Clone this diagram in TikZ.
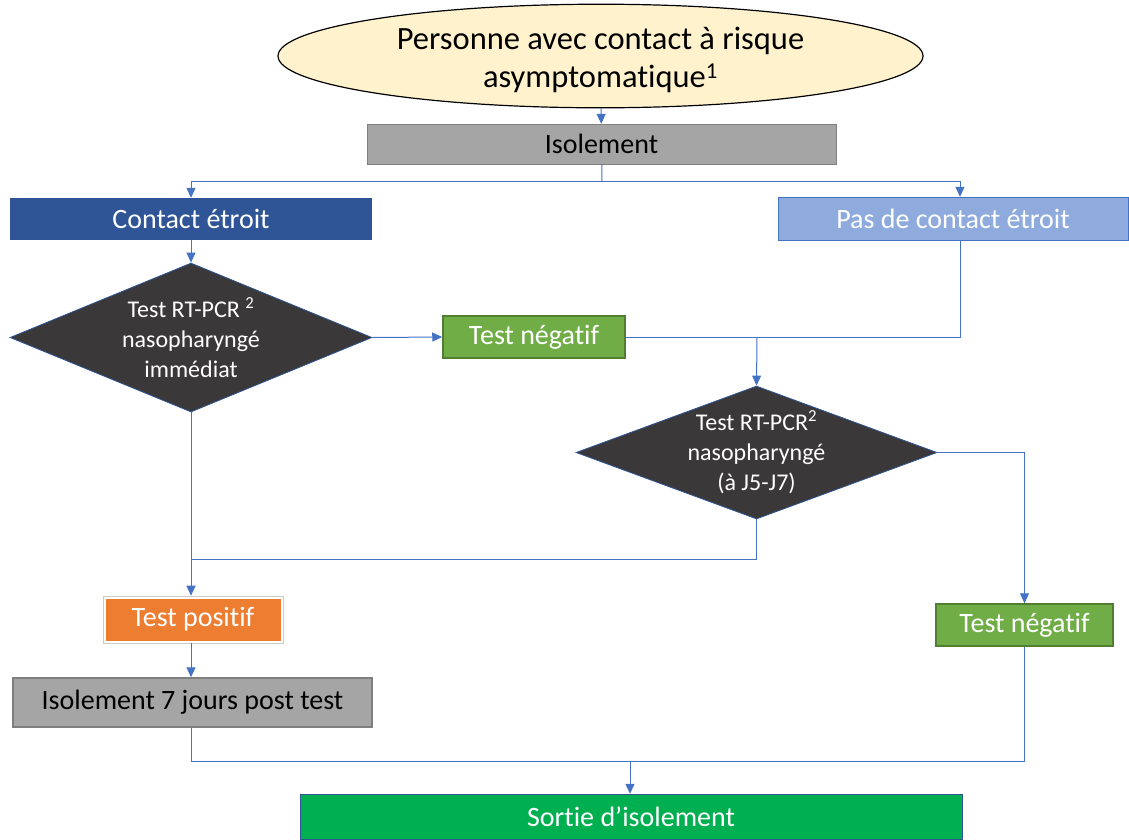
\documentclass[tikz,border=0pt]{standalone}
\usepackage{fontspec}
\setmainfont{Carlito}[Ligatures=NoCommon]
\usetikzlibrary{shapes.geometric,arrows.meta}

\definecolor{linkblue}{HTML}{4472C4}
\definecolor{startfill}{HTML}{FFF2CC}
\definecolor{grayfill}{HTML}{A5A5A5}
\definecolor{graydraw}{HTML}{7F7F7F}
\definecolor{darkblue}{HTML}{2F5597}
\definecolor{lightblue}{HTML}{8FAADC}
\definecolor{testfill}{HTML}{3A3838}
\definecolor{negfill}{HTML}{70AD47}
\definecolor{negdraw}{HTML}{507E32}
\definecolor{posfill}{HTML}{ED7D31}
\definecolor{exitfill}{HTML}{00B050}

\tikzset{
  box/.style={rectangle, inner sep=0pt, font=\fontsize{28}{32}\selectfont},
  testbox/.style={diamond, inner sep=-3pt, fill=testfill, draw=darkblue, line width=0.8pt,
    text=white, align=center, font=\fontsize{24}{30}\selectfont},
  link/.style={draw=linkblue, line width=1pt},
  arr/.style={link, -{Triangle[width=9pt,length=10pt]}}
}

\begin{document}
\begin{tikzpicture}[x=1pt,y=-1pt]
   \useasboundingbox (0,0) rectangle (1129,839);

   %START
   \node (start) at (600.5,56) [ellipse, inner sep=0pt, minimum width=645, minimum height=92,
      fill=startfill, draw=black, line width=1.2pt, align=center,
      font=\fontsize{32.5}{38}\selectfont] {\\[-8pt]Personne avec contact à risque\\asymptomatique\textsuperscript{1}};
   \node (iso) at (601.5,144) [box, minimum width=469, minimum height=40, fill=grayfill, draw=graydraw] {Isolement};

   %CONTACT
   \node (close) at (191,219) [box, minimum width=362, minimum height=42, fill=darkblue, text=white] {Contact étroit};
   \node (far) at (953,218.5) [box, minimum width=350, minimum height=43, fill=lightblue, draw=linkblue, text=white] {Pas de contact étroit};

   %TESTS
   \node (test1) at (191,337.5) [testbox, aspect=2.43, minimum width=362, minimum height=149] {Test RT-PCR \textsuperscript{2}\\nasopharyngé\\immédiat};
   \node (neg1) at (534,337) [box, minimum width=182, minimum height=42, fill=negfill, draw=negdraw, line width=1.5pt, text=white] {Test négatif};
   \node (test2) at (756.5,452.5) [testbox, aspect=2.7, minimum width=361, minimum height=133] {Test RT-PCR\textsuperscript{2}\\nasopharyngé\\(à J5-J7)};

   %RESULTS
   \node (pos) at (193,619.5) [box, minimum width=180, minimum height=47, fill=white, draw=black!20, line width=0.6pt, text=white,
      path picture={\fill[posfill] ([shift={(2.5pt,-2.5pt)}]path picture bounding box.north west) rectangle ([shift={(-2.5pt,2.5pt)}]path picture bounding box.south east);}] {Test positif};
   \node (neg2) at (1024.5,625) [box, minimum width=177, minimum height=42, fill=negfill, draw=negdraw, line width=1.5pt, text=white] {Test négatif};
   \node (iso7) at (192.5,702.5) [box, minimum width=359, minimum height=49, fill=grayfill, draw=graydraw, line width=1.5pt] {Isolement 7 jours post test};
   \node (exit) at (631,816.5) [box, minimum width=662, minimum height=45, fill=exitfill, draw=darkblue, text=white] {Sortie d’isolement};

   %LINKS
   \coordinate (split) at (602,181);
   \coordinate (join1) at (757,337);
   \coordinate (join2) at (191,559);
   \coordinate (join3) at (630,761);

   \draw [arr] (start) -- (iso);
   \draw [link] (iso) -- (split);
   \draw [arr] (split) -| (close.north);
   \draw [arr] (split) -| ([xshift=7pt]far.north);
   \draw [arr] (close) -- (test1);
   \draw [arr] (test1.east) -- (neg1.west);
   \draw [link] (neg1.east) -- (join1);
   \draw [link] ([xshift=7pt]far.south) |- (join1);
   \draw [arr] (join1) -- (test2.north);
   \draw [arr] (test2.east) -| (neg2.north);
   \draw [link] (test2.south) |- (join2);
   \draw [arr] (test1.south) -- (pos.north -| test1.south);
   \draw [arr] (pos.south -| test1.south) -- (iso7.north -| test1.south);
   \draw [link] (iso7.south -| test1.south) |- (join3);
   \draw [link] (neg2.south) |- (join3);
   \draw [arr] (join3) -- (exit.north -| join3);
 \end{tikzpicture}
\end{document}
